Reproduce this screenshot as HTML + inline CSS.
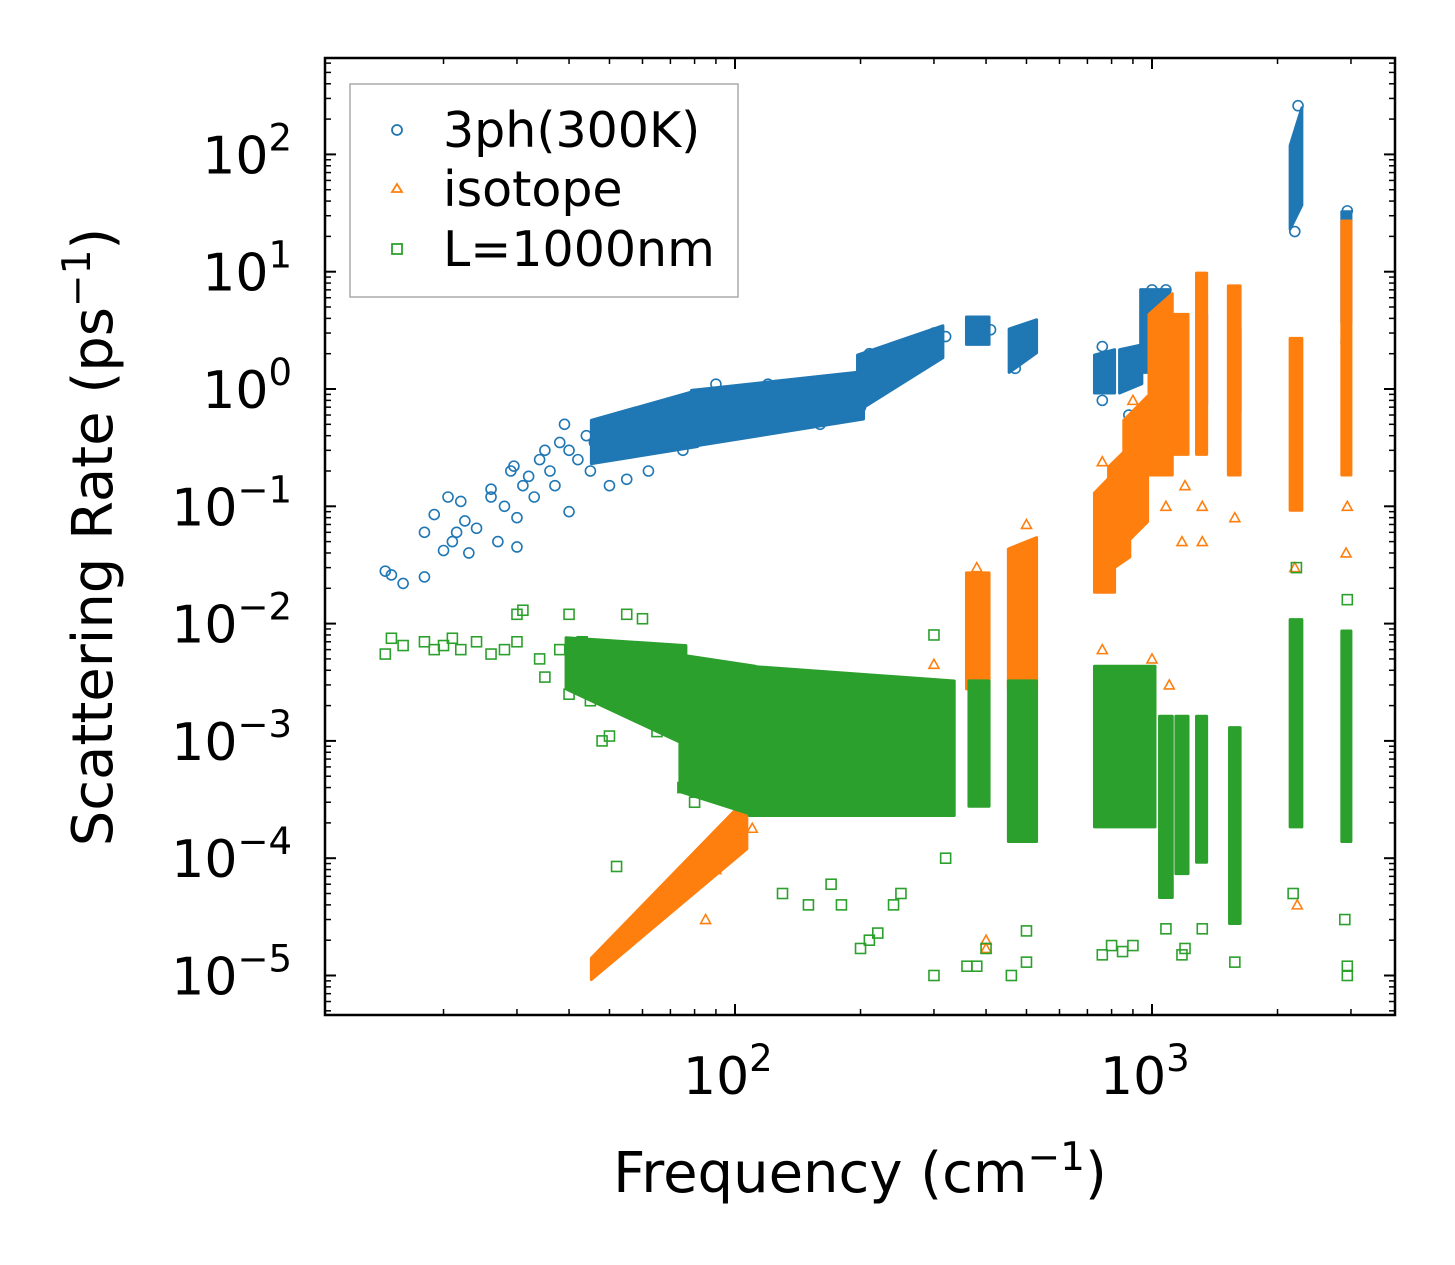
<!DOCTYPE html>
<html><head><meta charset="utf-8"><style>
html,body{margin:0;padding:0;background:#fff;}
svg{display:block;font-family:"DejaVu Sans","Liberation Sans",sans-serif;}
</style></head><body>
<svg id="chart" width="1455" height="1265" viewBox="0 0 1455 1265" xmlns="http://www.w3.org/2000/svg">
<rect x="0" y="0" width="1455" height="1265" fill="#fff"/>
<g id="marks"></g>
<g id="axes"></g>
<text x="860" y="1192" font-size="56" text-anchor="middle">Frequency (cm<tspan dy="-22" font-size="39">−1</tspan><tspan dy="22">)</tspan></text>
<text transform="translate(112,537) rotate(-90)" font-size="56" text-anchor="middle">Scattering Rate (ps<tspan dy="-22" font-size="39">−1</tspan><tspan dy="22">)</tspan></text>
<g>
<rect x="350" y="84" width="388" height="213" fill="#fff" stroke="#aaa" stroke-width="1.5"/>
<g>
<circle cx="397" cy="130" r="5" fill="none" stroke="#1f77b4" stroke-width="1.8"/>
<text x="443" y="147" font-size="49">3ph(300K)</text></g>
<g>
<path d="M397,184 L402,192 L392,192 Z" fill="none" stroke="#ff7f0e" stroke-width="1.8"/>
<text x="443" y="206" font-size="49">isotope</text></g>
<g>
<rect x="392" y="244" width="10" height="10" fill="none" stroke="#2ca02c" stroke-width="1.8"/>
<text x="443" y="266" font-size="49">L=1000nm</text></g>
</g>
</svg>
<script>
// dense clusters: [freqLo, freqHi, rateLoAtFreqLo, rateHiAtFreqLo, rateLoAtFreqHi, rateHiAtFreqHi]
const blueClusters=[[46,80,0.25,0.5,0.35,0.9],[80,200,0.35,0.9,0.6,1.3],[200,310,0.7,1.8,2,3.2],[365,400,2.6,3.8,2.6,3.8],[462,520,1.5,3.0,2.2,3.6],[740,800,1.0,1.8,1.0,2.0],[850,930,1.0,2.0,1.2,2.2],[955,1080,1.5,6.5,1.5,6.5],[1300,1330,0.8,4,0.8,4],[1560,1600,0.7,3,0.7,3],[2180,2250,25,110,40,230],[2900,2950,4,30,4,30]];
const orangeClusters=[[46,105,1e-5,1.3e-5,1.3e-4,3e-4],[280,320,6e-4,3e-3,6e-4,3e-3],[365,400,3e-3,2.5e-2,3e-3,2.5e-2],[460,520,3e-3,4e-2,3e-3,5e-2],[740,800,2e-2,1.2e-1,2e-2,1.8e-1],[800,870,3e-2,2e-1,4e-2,3e-1],[870,960,5e-2,5e-1,8e-2,8e-1],[1000,1100,2e-1,4,2e-1,6],[1150,1200,3e-1,4,3e-1,4],[1300,1330,3e-1,9,3e-1,9],[1550,1600,2e-1,7,2e-1,7],[2180,2250,1e-1,2.5,1e-1,2.5],[2900,2950,2e-1,25,2e-1,25]];
const greenClusters=[[40,75,3e-3,7e-3,1e-3,6e-3],[75,110,4e-4,5e-3,2.5e-4,4e-3],[110,330,2.5e-4,4e-3,2.5e-4,3e-3],[370,400,3e-4,3e-3,3e-4,3e-3],[460,520,1.5e-4,3e-3,1.5e-4,3e-3],[740,1000,2e-4,4e-3,2e-4,4e-3],[1060,1100,5e-5,1.5e-3,5e-5,1.5e-3],[1160,1200,8e-5,1.5e-3,8e-5,1.5e-3],[1300,1330,1e-4,1.5e-3,1e-4,1.5e-3],[1560,1600,3e-5,1.2e-3,3e-5,1.2e-3],[2180,2250,2e-4,1e-2,2e-4,1e-2],[2900,2950,1.5e-4,8e-3,1.5e-4,8e-3]];
// scattered points: [freq, rate]
const bluePoints=[[14.5,0.028],[15,0.026],[16,0.022],[18,0.025],[18,0.06],[19,0.085],[20,0.042],[20.5,0.12],[21,0.05],[21.5,0.06],[22,0.11],[22.5,0.075],[23,0.04],[24,0.065],[26,0.12],[26,0.14],[27,0.05],[28,0.1],[29,0.2],[29.5,0.22],[30,0.08],[30,0.045],[31,0.15],[32,0.18],[33,0.12],[34,0.25],[35,0.3],[36,0.2],[37,0.15],[38,0.35],[39,0.5],[40,0.3],[40,0.09],[42,0.25],[44,0.4],[45,0.2],[46,0.35],[48,0.45],[50,0.15],[52,0.5],[55,0.17],[58,0.6],[62,0.2],[65,0.6],[75,0.3],[80,0.9],[90,1.1],[100,0.55],[120,1.1],[140,0.5],[160,0.5],[200,0.7],[210,2.0],[300,3.0],[320,2.8],[410,3.2],[470,1.5],[760,2.3],[760,0.8],[880,0.6],[960,0.7],[1000,7],[1080,7],[1320,0.6],[1580,0.6],[2200,22],[2240,260],[2940,33],[2920,2.5]];
const orangePoints=[[85,3e-5],[90,8e-5],[100,3e-4],[110,1.8e-4],[300,4.5e-3],[380,3e-2],[400,1.7e-5],[400,2e-5],[500,7e-2],[760,2.4e-1],[760,6e-3],[900,8e-1],[1000,5e-3],[1080,1e-1],[1100,3e-3],[1180,5e-2],[1200,1.5e-1],[1320,5e-2],[1320,1e-1],[1580,8e-2],[2200,3e-2],[2230,4e-5],[2230,3e-1],[2920,4e-2],[2940,1e-1]];
const greenPoints=[[14.5,5.5e-3],[15,7.5e-3],[16,6.5e-3],[18,7e-3],[19,6e-3],[20,6.5e-3],[21,7.5e-3],[22,6e-3],[24,7e-3],[26,5.5e-3],[28,6e-3],[30,7e-3],[30,1.2e-2],[31,1.3e-2],[34,5e-3],[35,3.5e-3],[38,6e-3],[40,2.5e-3],[40,1.2e-2],[43,7e-3],[45,2.2e-3],[48,1e-3],[50,1.1e-3],[52,8.5e-5],[55,1.2e-2],[60,1.1e-2],[65,1.2e-3],[75,4e-4],[80,3e-4],[130,5e-5],[150,4e-5],[170,6e-5],[180,4e-5],[200,1.7e-5],[210,2e-5],[220,2.3e-5],[240,4e-5],[250,5e-5],[300,1e-5],[300,8e-3],[320,1e-4],[360,1.2e-5],[380,1.2e-5],[400,1.7e-5],[460,1e-5],[500,2.4e-5],[500,1.3e-5],[760,1.5e-5],[800,1.8e-5],[850,1.6e-5],[900,1.8e-5],[1080,2.5e-5],[1180,1.5e-5],[1200,1.7e-5],[1320,2.5e-5],[1580,1.3e-5],[2180,5e-5],[2220,3e-2],[2900,3e-5],[2940,1e-5],[2940,1.6e-2],[2940,1.2e-5]];

const X0=735, XD=417, Y0=389, YD=117.3;
function xs(f){return X0+(Math.log10(f)-2)*XD;}
function ys(r){return Y0-Math.log10(r)*YD;}
const NS="http://www.w3.org/2000/svg";
const marks=document.getElementById('marks');
const colors={blue:'#1f77b4',orange:'#ff7f0e',green:'#2ca02c'};
function el(t,a){const e=document.createElementNS(NS,t);for(const k in a)e.setAttribute(k,a[k]);return e;}
function drawClusters(arr,col,nm){
  arr.forEach(c=>{
    const x1=xs(c[0])-3,x2=xs(c[1])+3;
    const pts=[[x1,ys(c[3])-4],[x2,ys(c[5])-4],[x2,ys(c[4])+4],[x1,ys(c[2])+4]];
    const p=el('polygon',{points:pts.map(q=>q.join(',')).join(' '),fill:col,stroke:col,'stroke-width':3,'stroke-linejoin':'round'});
    
    
    marks.appendChild(p);
  });
}
function drawPoints(arr,col,shape,nm){
  arr.forEach(p=>{
    const x=xs(p[0]),y=ys(p[1]);let m;
    if(shape==='circle')m=el('circle',{cx:x,cy:y,r:5,fill:'none',stroke:col,'stroke-width':1.6});
    else if(shape==='tri')m=el('path',{d:`M${x},${y-5} L${x+5},${y+4} L${x-5},${y+4} Z`,fill:'none',stroke:col,'stroke-width':1.6});
    else m=el('rect',{x:x-5,y:y-5,width:10,height:10,fill:'none',stroke:col,'stroke-width':1.6});
    
    
    marks.appendChild(m);
  });
}
drawClusters(blueClusters,colors.blue,'3ph');
drawPoints(bluePoints,colors.blue,'circle','3ph');
drawClusters(orangeClusters,colors.orange,'isotope');
drawPoints(orangePoints,colors.orange,'tri','isotope');
drawClusters(greenClusters,colors.green,'boundary');
drawPoints(greenPoints,colors.green,'square','boundary');

const axes=document.getElementById('axes');
const L=325,R=1395,T=58,B=1015;
const frame=el('rect',{x:L,y:T,width:R-L,height:B-T,fill:'none',stroke:'#000','stroke-width':2.5});


axes.appendChild(frame);
const yTickExps=[2,1,0,-1,-2,-3,-4,-5];
const xTickExps=[2,3];
function line(x1,y1,x2,y2,w){return el('line',{x1,y1,x2,y2,stroke:'#000','stroke-width':w});}
yTickExps.forEach(e=>{
  const y=ys(Math.pow(10,e));
  axes.appendChild(line(L,y,L+11,y,2));axes.appendChild(line(R,y,R-11,y,2));
  const t=el('text',{x:292,y:y+19,'font-size':52,'text-anchor':'end'});
  
  
  t.innerHTML='10<tspan dy="-23" font-size="37">'+(e<0?'−'+(-e):e)+'</tspan>';
  axes.appendChild(t);
});
for(let e=-6;e<3;e++)for(let k=2;k<10;k++){
  const y=ys(k*Math.pow(10,e));if(y<T||y>B)continue;
  axes.appendChild(line(L,y,L+6,y,1.5));axes.appendChild(line(R,y,R-6,y,1.5));
}
xTickExps.forEach(e=>{
  const x=xs(Math.pow(10,e));
  axes.appendChild(line(x,B,x,B-11,2));axes.appendChild(line(x,T,x,T+11,2));
  const t=el('text',{x:x-52,y:1094,'font-size':52,'text-anchor':'start'});
  
  
  t.innerHTML='10<tspan dy="-23" font-size="37">'+e+'</tspan>';
  axes.appendChild(t);
});
for(let e=1;e<4;e++)for(let k=1;k<10;k++){
  const x=xs(k*Math.pow(10,e));if(x<L||x>R||k===1&&e>1)continue;
  axes.appendChild(line(x,B,x,B-6,1.5));axes.appendChild(line(x,T,x,T+6,1.5));
}
</script>
</body></html>
